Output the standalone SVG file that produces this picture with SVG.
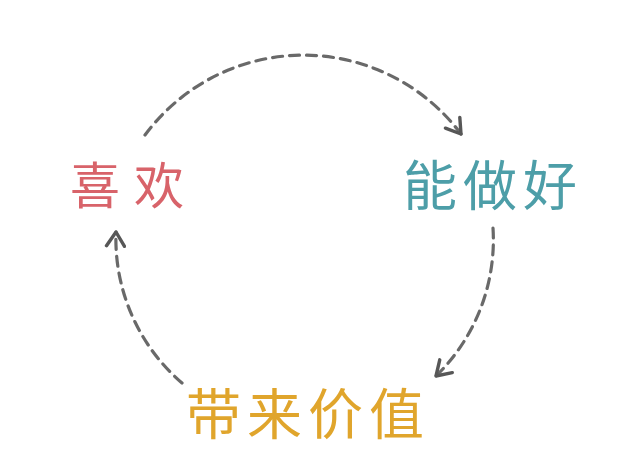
<svg xmlns="http://www.w3.org/2000/svg" width="640" height="474" viewBox="0 0 640 474">
<defs>
<style>
.arc{fill:none;stroke:#505050;stroke-width:3.2;stroke-linecap:round;stroke-dasharray:10 7;opacity:0.85}
.lbl{font-family:"Noto Sans CJK SC","Noto Sans CJK JP",sans-serif;font-weight:400}
</style>
<marker id="ah" viewBox="-16 -11 20 22" markerWidth="20" markerHeight="22" refX="0" refY="0" orient="auto" markerUnits="userSpaceOnUse">
<path d="M-14,-9 L0,0 L-14,9" fill="none" stroke="#3a3a3a" stroke-width="3.4" stroke-linecap="round" stroke-linejoin="round"/>
</marker>
</defs>
<rect width="640" height="474" fill="#ffffff"/>
<g id="connectors">
<path class="arc" d="M145,135 A197,197 0 0 1 461,134" marker-end="url(#ah)"/>
<path class="arc" d="M493,228 A190,190 0 0 1 436,376" marker-end="url(#ah)"/>
<path class="arc" d="M182,383 A190,190 0 0 1 116,232" marker-end="url(#ah)"/>
</g>
<g id="like">
<text class="lbl" x="70" y="204" font-size="50" fill="#d8636a" letter-spacing="14">喜欢</text>
</g>
<g id="cando">
<text class="lbl" x="403" y="206" font-size="54" fill="#4d9ea8" letter-spacing="6">能做好</text>
</g>
<g id="value">
<text class="lbl" x="186" y="434" font-size="55" fill="#e0a52c" letter-spacing="6">带来价值</text>
</g>
</svg>
